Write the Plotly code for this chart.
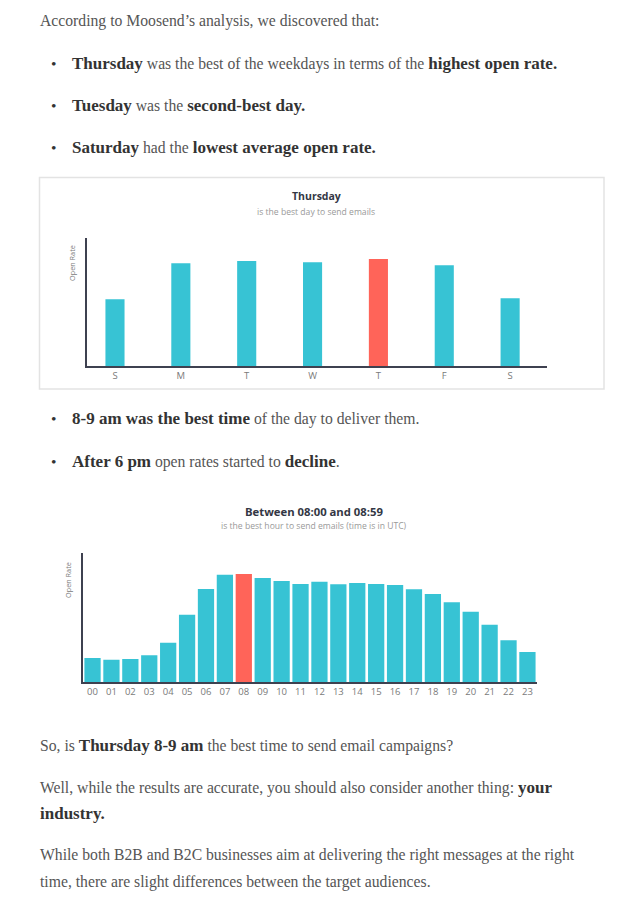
import plotly.graph_objects as go

W, H = 622, 900

# ---- data ----
days = ["S", "M", "T", "W", "T", "F", "S"]
day_open_rate = [66.7, 102.7, 105.0, 103.7, 107.0, 100.7, 67.7]
best_day_index = 4

hours = ["00", "01", "02", "03", "04", "05", "06", "07", "08", "09", "10", "11",
         "12", "13", "14", "15", "16", "17", "18", "19", "20", "21", "22", "23"]
hour_open_rate = [24.0, 22.3, 23.0, 26.7, 39.3, 67.3, 93.0, 107.3, 108.0, 104.0, 101.0, 98.0,
                  100.3, 97.7, 99.0, 98.0, 97.0, 92.7, 88.0, 79.7, 70.3, 57.3, 41.7, 30.0]
best_hour_index = 8

TEAL = "#37C3D4"
RED = "#FF6459"
AXIS = "#3E4150"

def px_x(x):
    return x / W

def px_y(y):
    return 1 - y / H

fig = go.Figure()

fig.add_trace(go.Bar(
    x=list(range(len(days))), y=day_open_rate,
    marker=dict(color=[RED if i == best_day_index else TEAL for i in range(len(days))], line=dict(width=0)),
    width=0.29, xaxis="x", yaxis="y", hoverinfo="skip"))

fig.add_trace(go.Bar(
    x=list(range(len(hours))), y=hour_open_rate,
    marker=dict(color=[RED if i == best_hour_index else TEAL for i in range(len(hours))], line=dict(width=0)),
    width=0.86, xaxis="x2", yaxis="y2", hoverinfo="skip"))

tickfont = dict(family="Open Sans", size=9.5, color="#7a7a7a")

fig.update_layout(
    width=W, height=H, margin=dict(l=0, r=0, t=0, b=0),
    paper_bgcolor="white", plot_bgcolor="white", showlegend=False,
    xaxis=dict(domain=[px_x(87), px_x(547)], range=[-0.425, 6.56],
               tickvals=list(range(len(days))), ticktext=days,
               showline=True, linecolor=AXIS, linewidth=2, showgrid=False, zeroline=False,
               ticks="", tickfont=tickfont, anchor="y", fixedrange=True),
    yaxis=dict(domain=[px_y(366), px_y(238)], range=[0, 128],
               showline=True, linecolor=AXIS, linewidth=2, showgrid=False, zeroline=False,
               showticklabels=False, ticks="", anchor="x", fixedrange=True),
    xaxis2=dict(domain=[px_x(82.7), px_x(536.7)], range=[-0.52, 23.49],
                tickvals=list(range(len(hours))), ticktext=hours,
                showline=True, linecolor=AXIS, linewidth=2, showgrid=False, zeroline=False,
                ticks="", tickfont=tickfont, anchor="y2", fixedrange=True),
    yaxis2=dict(domain=[px_y(682), px_y(553)], range=[0, 129],
                showline=True, linecolor=AXIS, linewidth=2, showgrid=False, zeroline=False,
                showticklabels=False, ticks="", anchor="x2", fixedrange=True),
)

# chart 1 frame
fig.add_shape(type="rect", xref="paper", yref="paper",
              x0=px_x(39.5), x1=px_x(604), y0=px_y(389), y1=px_y(177.5),
              line=dict(color="#e3e3e3", width=1.5), layer="below")

ann = []

def text(x, y, s, size=15.7, color="#555555", family="Liberation Serif", xanchor="left", angle=0):
    ann.append(dict(x=px_x(x), y=px_y(y), xref="paper", yref="paper", text=s, showarrow=False,
                    xanchor=xanchor, yanchor="middle", textangle=angle,
                    font=dict(family=family, size=size, color=color)))

def b(s):
    return "<b><span style='color:#333333;font-size:17px'>" + s + "</span></b>"

# body text
text(37.5, 21, "According to Moosend\u2019s analysis, we discovered that:")
bul = [(63, b("Thursday") + " was the best of the weekdays in terms of the " + b("highest open rate.")),
       (106, b("Tuesday") + " was the " + b("second-best day.")),
       (148, b("Saturday") + " had the " + b("lowest average open rate.")),
       (419, b("8-9 am was the best time") + " of the day to deliver them."),
       (461, b("After 6 pm") + " open rates started to " + b("decline") + ".")]
for y, s in bul:
    text(53.5, y, "<span style='color:#333333'>\u2022</span>", size=15.5, xanchor="center")
    text(69.5, y, s)

text(37.5, 745, "So, is " + b("Thursday 8-9 am") + " the best time to send email campaigns?")
text(37.5, 787, "Well, while the results are accurate, you should also consider another thing: " + b("your"))
text(37.5, 813, b("industry."))
text(37.5, 855, "While both B2B and B2C businesses aim at delivering the right messages at the right")
text(37.5, 882, "time, there are slight differences between the target audiences.")

# chart titles
text(316, 196, "<b>Thursday</b>", size=10.5, color="#333744", family="Open Sans", xanchor="center")
text(316, 211.5, "is the best day to send emails", size=8.6, color="#999999", family="Open Sans", xanchor="center")
text(313.8, 511.5, "<b>Between 08:00 and 08:59</b>", size=11.3, color="#333744", family="Open Sans", xanchor="center")
text(313.8, 525.5, "is the best hour to send emails (time is in UTC)", size=8.6, color="#999999", family="Open Sans", xanchor="center")

# y-axis titles
text(72, 263, "Open Rate", size=7.3, color="#7a7a7a", family="Open Sans", xanchor="center", angle=-90)
text(68, 580, "Open Rate", size=7.3, color="#7a7a7a", family="Open Sans", xanchor="center", angle=-90)

fig.update_layout(annotations=ann)

fig.write_html("out.html")
